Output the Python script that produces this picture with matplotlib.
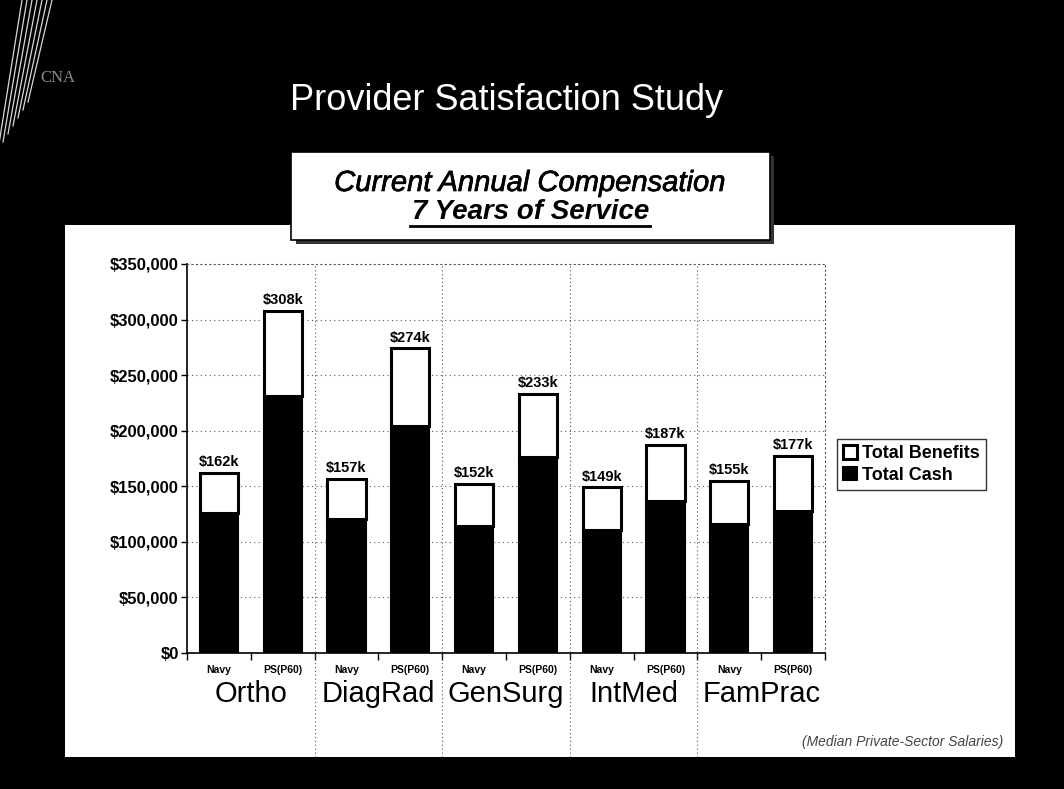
import matplotlib
matplotlib.use("Agg")
import matplotlib.pyplot as plt
from matplotlib.patches import Rectangle
from matplotlib.lines import Line2D
import matplotlib.patheffects as pe
import numpy as np

plt.rcParams['font.family'] = ['Liberation Sans', 'DejaVu Sans']

specialties = ["Ortho", "DiagRad", "GenSurg", "IntMed", "FamPrac"]
bar_labels = ["Navy", "PS(P60)"] * 5
totals = [162, 308, 157, 274, 152, 233, 149, 187, 155, 177]          # $k
cash = [126, 231, 121, 204, 114, 176, 111, 137, 116, 128]            # $k
benefits = [t - c for t, c in zip(totals, cash)]
yticks = [0, 50000, 100000, 150000, 200000, 250000, 300000, 350000]

W, H = 1064, 789
fig = plt.figure(figsize=(W / 100, H / 100), dpi=100)
fig.patch.set_facecolor("black")

def fx(px):
    return px / W

def fy(py):
    return 1 - py / H

# diagonal hatch in top-left corner
for k in range(7):
    x0 = 4 + k * 5
    fig.add_artist(Line2D([fx(x0 - 6), fx(x0 + 18)], [fy(150 - k * 8), fy(0)],
                          color="white", lw=0.9, alpha=0.85))

# CNA logo
fig.text(fx(40), fy(78), "CNA", color="#8a8a8a", fontsize=12,
         family="Liberation Serif", ha="left", va="center")

# Main title
fig.text(fx(507), fy(100), "Provider Satisfaction Study", color="white",
         fontsize=26, ha="center", va="center")

# White chart panel
fig.add_artist(Rectangle((fx(65), fy(757)), fx(1015) - fx(65), fy(225) - fy(757),
                         transform=fig.transFigure, facecolor="white",
                         edgecolor="none", zorder=0))

# Axes
ax = fig.add_axes([fx(187), fy(653), fx(825) - fx(187), fy(264) - fy(653)])
ax.set_facecolor("white")
x = np.arange(len(totals))
ax.bar(x, [c * 1000 for c in cash], width=0.6, color="black",
       edgecolor="black", linewidth=1.5, label="Total Cash", zorder=3)
ax.bar(x, [b * 1000 for b in benefits], bottom=[c * 1000 for c in cash],
       width=0.6, color="white", edgecolor="black", linewidth=2.2,
       label="Total Benefits", zorder=3)

for xi, t in zip(x, totals):
    ax.text(xi, t * 1000 + 3500, f"${t}k", ha="center", va="bottom",
            fontsize=10.5, fontweight="bold", zorder=4)

ax.set_xlim(-0.5, 9.5)
ax.set_ylim(0, 350000)
ax.set_yticks(yticks)
ax.set_yticklabels([f"${v:,.0f}" for v in yticks], fontsize=12,
                   fontweight="bold")
ax.yaxis.grid(True, linestyle=(0, (1, 3)), color="#555555", lw=0.8, zorder=0)
ax.set_axisbelow(True)

ax.set_xticks(np.arange(-0.5, 10, 1.0))
ax.set_xticklabels([])
ax.tick_params(axis="x", direction="out", length=5, width=1)
ax.tick_params(axis="y", direction="out", length=4, width=1, pad=2)

for s in ["left", "bottom"]:
    ax.spines[s].set_color("black")
    ax.spines[s].set_linewidth(1.2)
for s in ["top", "right"]:
    ax.spines[s].set_linestyle((0, (1, 3)))
    ax.spines[s].set_color("#555555")
    ax.spines[s].set_linewidth(0.8)

# group separators
for sep in [1.5, 3.5, 5.5, 7.5]:
    ax.axvline(sep, ymin=-0.268, ymax=1.0, clip_on=False,
               linestyle=(0, (1, 2.5)), color="#555555", lw=0.8, zorder=1)

# bar category labels and specialty labels
trans = ax.get_xaxis_transform()
for xi, lab in zip(x, bar_labels):
    ax.text(xi, -0.044, lab, transform=trans, ha="center", va="center",
            fontsize=7.5, fontweight="bold")
for g, name in enumerate(specialties):
    ax.text(2 * g + 0.5, -0.105, name, transform=trans, ha="center",
            va="center", fontsize=21)

# Legend
handles, labels = ax.get_legend_handles_labels()
leg = fig.legend(handles[::-1], labels[::-1], loc="upper left",
                 bbox_to_anchor=(fx(837), fy(439)), frameon=True,
                 fancybox=False, edgecolor="black",
                 prop={"weight": "bold", "size": 13},
                 handlelength=0.75, handleheight=0.75, handletextpad=0.3,
                 borderpad=0.35, labelspacing=0.25, borderaxespad=0)
leg.get_frame().set_linewidth(1.0)

# Footnote
fig.text(fx(1003), fy(742), "(Median Private-Sector Salaries)",
         ha="right", va="center", fontsize=10, style="italic", color="#444444")

# Subtitle box with shadow
fig.add_artist(Rectangle((fx(296), fy(244)), fx(774) - fx(296), fy(156) - fy(244),
                         transform=fig.transFigure, facecolor="#333333",
                         edgecolor="none", zorder=5))
fig.add_artist(Rectangle((fx(291), fy(240)), fx(770) - fx(291), fy(152) - fy(240),
                         transform=fig.transFigure, facecolor="white",
                         edgecolor="black", linewidth=1.2, zorder=6))
fig.text(fx(530), fy(183), "Current Annual Compensation", ha="center",
         va="center", fontsize=21, style="italic", zorder=7,
         path_effects=[pe.withStroke(linewidth=0.5, foreground="black")])
fig.text(fx(531), fy(212), "7 Years of Service", ha="center",
         va="center", fontsize=20, style="italic", fontweight="bold",
         zorder=7)
fig.add_artist(Line2D([fx(410), fx(650)], [fy(226), fy(226)], color="black",
                      lw=2.0, zorder=7))

fig.savefig("out.png", dpi=100, facecolor=fig.get_facecolor())
